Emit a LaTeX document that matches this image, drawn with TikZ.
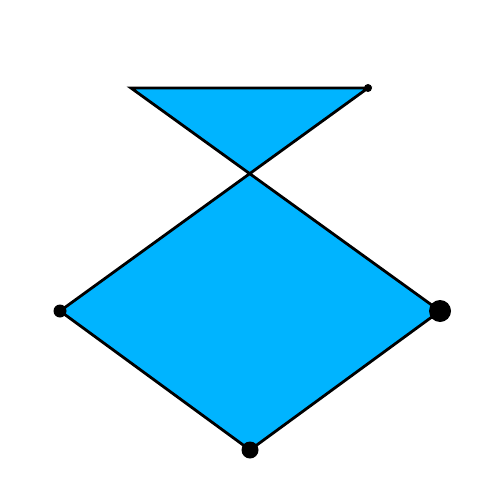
\documentclass[tikz,border=0pt]{standalone}
\definecolor{fillblue}{RGB}{0,180,255}
\tikzset{polyshape/.style={draw=black,line width=2.8pt,fill=fillblue,line join=miter},
 blackdot/.style={fill=black}}
\begin{document}
\begin{tikzpicture}[x=1pt,y=-1pt]
\useasboundingbox (0,0) rectangle (500,500);
\coordinate (a) at (131,88);
\coordinate (b) at (368,88);
\coordinate (c) at (60,311);
\coordinate (d) at (250,450);
\coordinate (e) at (440,311);
\draw[polyshape] (a) -- (b) -- (c) -- (d) -- (e) -- cycle;
\fill[blackdot] (b) circle (4);
\fill[blackdot] (c) circle (6.5);
\fill[blackdot] (d) circle (8.5);
\fill[blackdot] (e) circle (11);
\end{tikzpicture}
\end{document}
